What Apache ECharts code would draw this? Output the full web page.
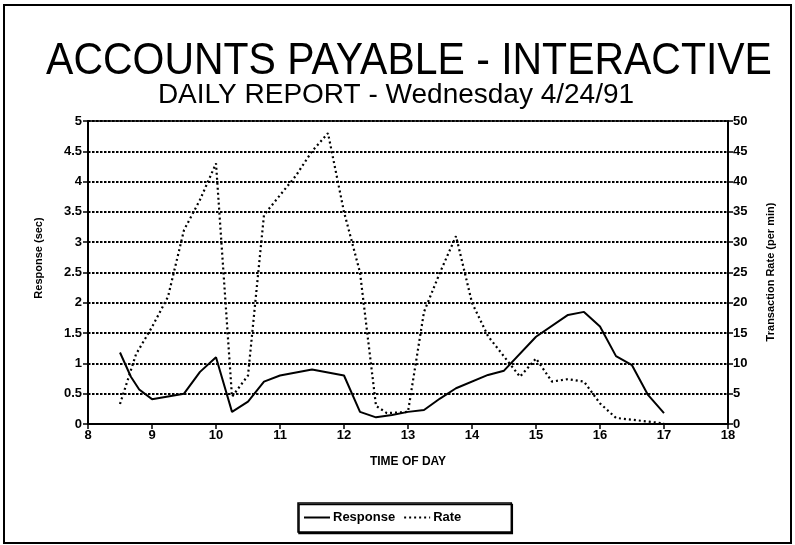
<!DOCTYPE html>
<html>
<head>
<meta charset="utf-8">
<script src="https://cdn.jsdelivr.net/npm/echarts@6/dist/echarts.min.js"></script>
<style>
  html, body { margin: 0; padding: 0; background: #fff; }
  #chart { width: 795px; height: 545px; }
</style>
</head>
<body>
<div id="chart"></div>
<script>
// Time of day (hours) and mean response time (seconds)
const responseTimes = [8.5, 8.67, 8.8, 9, 9.5, 9.75, 10, 10.25, 10.5, 10.75, 11, 11.5, 12, 12.25, 12.5, 12.75, 13, 13.25, 13.5, 13.75, 14.25, 14.5, 15, 15.5, 15.75, 16, 16.25, 16.5, 16.75, 17];
const responseSec   = [1.18, 0.78, 0.57, 0.41, 0.5, 0.86, 1.1, 0.2, 0.37, 0.7, 0.8, 0.9, 0.8, 0.2, 0.11, 0.15, 0.2, 0.23, 0.42, 0.59, 0.81, 0.88, 1.44, 1.8, 1.85, 1.61, 1.12, 0.97, 0.48, 0.18];

// Time of day (hours) and transaction rate (per minute)
const rateTimes   = [8.5, 8.75, 9, 9.25, 9.5, 9.75, 10, 10.25, 10.5, 10.75, 11.25, 11.5, 11.75, 12, 12.25, 12.5, 12.67, 13, 13.25, 13.5, 13.75, 14, 14.25, 14.75, 15, 15.25, 15.5, 15.75, 16, 16.25, 16.75, 17];
const ratePerMin  = [3.3, 11.5, 16, 21, 32, 37, 43, 4.5, 8, 34.5, 41, 45, 48, 35, 25, 3, 1.8, 2, 18.5, 25, 31, 20, 14.5, 7.8, 10.8, 7, 7.4, 7, 3.4, 1, 0.4, 0.1];

const chartTitle    = 'ACCOUNTS PAYABLE - INTERACTIVE';
const chartSubtitle = 'DAILY REPORT - Wednesday 4/24/91';
const xAxisName     = 'TIME OF DAY';
const leftAxisName  = 'Response (sec)';
const rightAxisName = 'Transaction Rate (per min)';
const seriesNames   = ['Response', 'Rate'];

const pair = (xs, ys) => xs.map((x, i) => [x, ys[i]]);

const FONT = '"Liberation Sans", Arial, Helvetica, sans-serif';
const tickLabel = { color: '#000', fontFamily: FONT, fontSize: 13, fontWeight: 'bold' };
const gridDash = { color: '#000', width: 1.8, type: [2.5, 1.5] };

const chart = echarts.init(document.getElementById('chart'), null, { renderer: 'canvas' });

chart.setOption({
  animation: false,
  backgroundColor: '#fff',
  grid: {
    left: 88, right: 67, top: 121, bottom: 121,
    show: true, borderColor: '#000', borderWidth: 1.5, backgroundColor: 'transparent'
  },
  graphic: [
    {
      type: 'rect', silent: true, z: -1,
      shape: { x: 4, y: 5, width: 787, height: 538 },
      style: { fill: 'none', stroke: '#000', lineWidth: 2 }
    },
    {
      type: 'text', x: 409, y: 62, scaleX: 0.91, originX: 0, originY: 0,
      style: {
        text: chartTitle, fill: '#000', font: '45px ' + FONT,
        textAlign: 'center', textVerticalAlign: 'middle'
      }
    },
    {
      type: 'text', x: 396, y: 95,
      style: {
        text: chartSubtitle, fill: '#000', font: '28px ' + FONT,
        textAlign: 'center', textVerticalAlign: 'middle'
      }
    },
    {
      type: 'text', x: 39, y: 258, rotation: Math.PI / 2,
      style: {
        text: leftAxisName, fill: '#000', font: 'bold 11px ' + FONT,
        textAlign: 'center', textVerticalAlign: 'middle'
      }
    },
    {
      type: 'text', x: 771, y: 272, rotation: Math.PI / 2,
      style: {
        text: rightAxisName, fill: '#000', font: 'bold 11px ' + FONT,
        textAlign: 'center', textVerticalAlign: 'middle'
      }
    }
  ],
  legend: {
    data: seriesNames,
    left: 298, top: 503,
    padding: [8, 50, 8, 5],
    itemGap: 8,
    itemWidth: 26, itemHeight: 10,
    itemStyle: { opacity: 0 },
    borderColor: '#000', borderWidth: 1.5,
    backgroundColor: '#fff',
    shadowColor: '#000', shadowBlur: 0, shadowOffsetX: 1, shadowOffsetY: 1.5,
    textStyle: { color: '#000', fontFamily: FONT, fontSize: 13, fontWeight: 'bold', padding: [0, 0, 0, -2] }
  },
  xAxis: {
    type: 'value', min: 8, max: 18, interval: 1,
    name: xAxisName, nameLocation: 'middle', nameGap: 32,
    nameTextStyle: { color: '#000', fontFamily: FONT, fontSize: 12, fontWeight: 'bold' },
    axisLine: { lineStyle: { color: '#000', width: 2 } },
    axisTick: { show: true, length: 5, lineStyle: { color: '#000', width: 1.5 } },
    axisLabel: Object.assign({ margin: 5 }, tickLabel),
    splitLine: { show: false }
  },
  yAxis: [
    {
      type: 'value', min: 0, max: 5, interval: 0.5,
      position: 'left',
      axisLine: { show: true, lineStyle: { color: '#000', width: 2 } },
      axisTick: { show: true, length: 5, lineStyle: { color: '#000', width: 1.5 } },
      axisLabel: Object.assign({ margin: 6 }, tickLabel),
      splitLine: { show: true, lineStyle: gridDash }
    },
    {
      type: 'value', min: 0, max: 50, interval: 5,
      position: 'right',
      axisLine: { show: true, lineStyle: { color: '#000', width: 2 } },
      axisTick: { show: true, length: 5, lineStyle: { color: '#000', width: 1.5 } },
      axisLabel: Object.assign({ margin: 5 }, tickLabel),
      splitLine: { show: false }
    }
  ],
  series: [
    {
      name: seriesNames[0], type: 'line', yAxisIndex: 0,
      data: pair(responseTimes, responseSec),
      symbol: 'none', color: '#000',
      lineStyle: { color: '#000', width: 2 },
      z: 5
    },
    {
      name: seriesNames[1], type: 'line', yAxisIndex: 1,
      data: pair(rateTimes, ratePerMin),
      symbol: 'none', color: '#000',
      lineStyle: { color: '#000', width: 2.2, type: [2, 3] },
      z: 4
    }
  ]
});
</script>
</body>
</html>
